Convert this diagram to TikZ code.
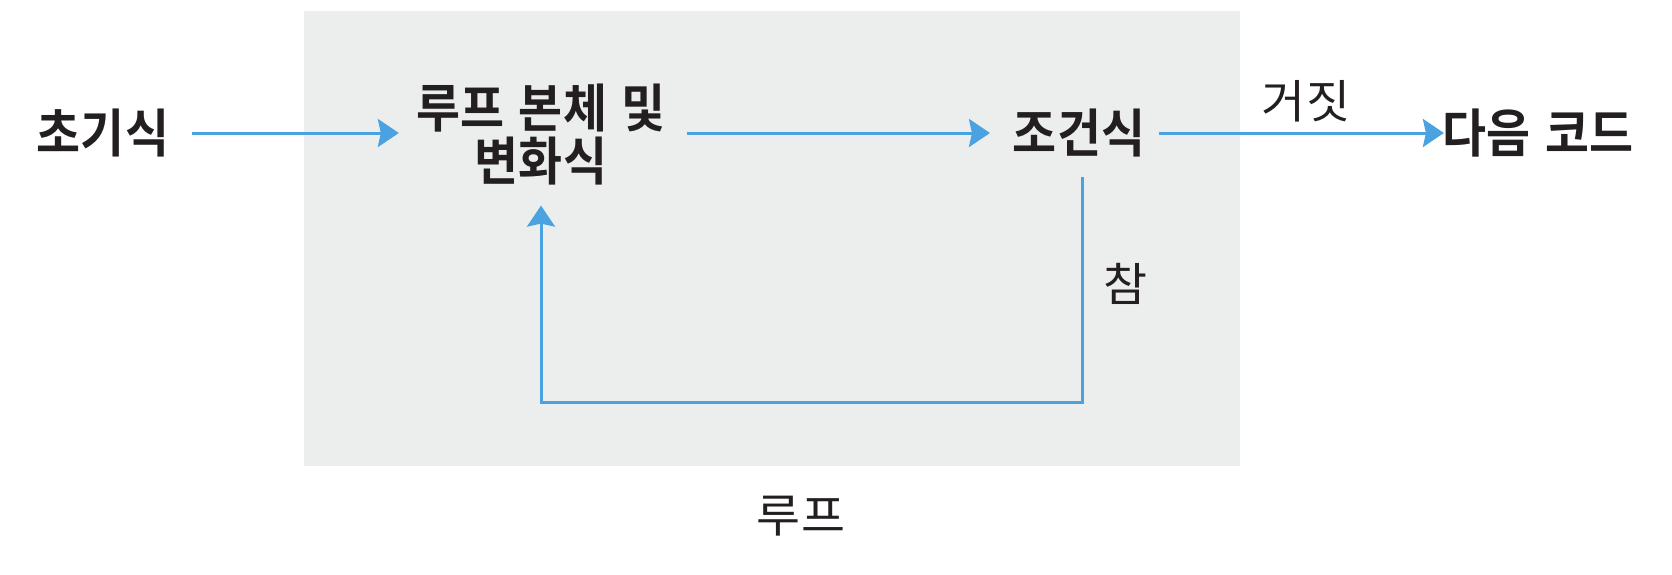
\documentclass[tikz,border=0pt]{standalone}
\usepackage{fontspec}
\newfontfamily\krb[FakeStretch=0.92,WordSpace=1.3]{Noto Sans CJK KR Bold}
\newfontfamily\krr[FakeStretch=1.04]{Noto Sans CJK KR}
\usetikzlibrary{arrows.meta}
\definecolor{flowblue}{HTML}{4AA3E0}
\definecolor{boxgray}{HTML}{ECEEEE}
\definecolor{ink}{HTML}{231F20}
\tikzset{
  main/.style={inner sep=0pt, outer sep=0pt, text=ink, font=\krb\fontsize{26pt}{26.5pt}\selectfont, align=center},
  lbl/.style={inner sep=0pt, outer sep=0pt, text=ink, font=\krr\fontsize{23pt}{24pt}\selectfont},
  arr/.style={draw=flowblue, line width=1.5pt, -{Stealth[length=10.5pt,width=14pt,inset=1.5pt]}},
}
\begin{document}
\begin{tikzpicture}[x=0.5pt,y=-0.5pt]
\useasboundingbox (0,0) rectangle (1672,574);
\node (box) [fill=boxgray, minimum width=468pt, minimum height=227.5pt, inner sep=0pt] at (772,238.5) {};
\node (init) [main] at (103,133) {초기식};
\node (body) [main] at (541,135) {루프 본체 및\\변화식};
\node (cond) [main] at (1079,133) {조건식};
\node (next) [main] at (1538,133) {다음 코드};
\node (false) [lbl] at (1306,101) {거짓};
\node (true) [lbl] at (1125,284) {참};
\node (loop) [lbl] at (801,516) {루프};
\coordinate (bottom) at (800,402);
\draw[arr, shorten <=11.5pt, shorten >=9pt] (init.east) -- (body.west |- init.east);
\draw[arr, shorten <=11pt, shorten >=11.5pt] (body.east |- cond.west) -- (cond.west);
\draw[arr, shorten <=6.8pt, shorten >=-0.5pt] (cond.east) -- (next.west);
\draw[arr, shorten <=10pt, shorten >=10pt] ([xshift=1.6pt]cond.south) -- ([xshift=1.6pt]cond.south |- bottom) -| (body.south);
\end{tikzpicture}
\end{document}
